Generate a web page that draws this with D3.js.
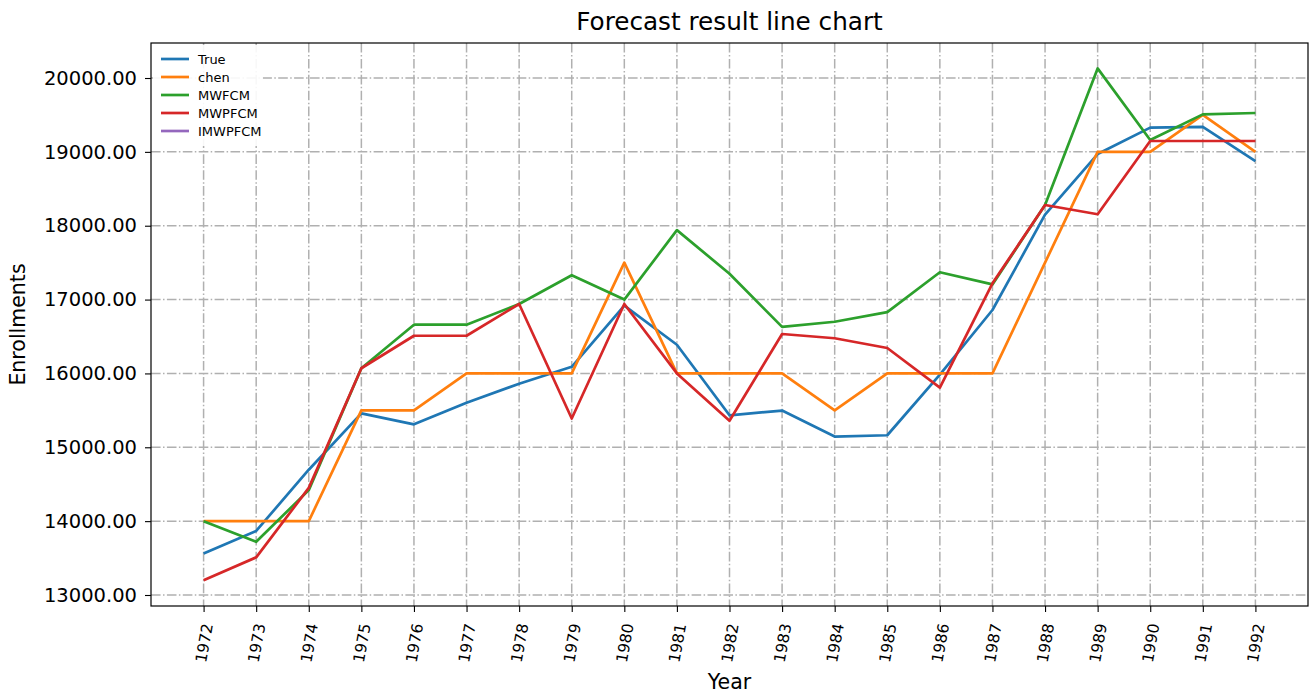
<!DOCTYPE html>
<html>
<head>
<meta charset="utf-8">
<title>Forecast result line chart</title>
<script src="https://d3js.org/d3.v7.min.js"></script>
<style>
  body { margin: 0; background: #fff; }
  text { font-family: "DejaVu Sans", sans-serif; fill: #000; }
  .grid line { stroke: #b0b0b0; stroke-width: 1.5; stroke-dasharray: 9.6 2.4 1.5 2.4; }
  .axis path, .axis line { stroke: #000; stroke-width: 1.1; }
</style>
</head>
<body>
<div id="chart"></div>
<script>
"use strict"

// dados
var anos = [1972, 1973, 1974, 1975, 1976, 1977, 1978, 1979, 1980, 1981, 1982,
            1983, 1984, 1985, 1986, 1987, 1988, 1989, 1990, 1991, 1992];
var serieTrue = [13563, 13867, 14696, 15460, 15311, 15603, 15861, 16090, 16919, 16388, 15433,
                 15497, 15145, 15163, 15984, 16859, 18150, 18970, 19328, 19337, 18876];
var serieChen = [14000, 14000, 14000, 15500, 15500, 16000, 16000, 16000, 17500, 16000, 16000,
                 16000, 15500, 16000, 16000, 16000, 17500, 19000, 19000, 19500, 19000];
var serieMWFCM = [14000, 13720, 14420, 16070, 16660, 16660, 16940, 17330, 17000, 17940, 17350,
                  16630, 16700, 16830, 17370, 17205, 18280, 20130, 19160, 19508, 19526];
var serieMWPFCM = [13200, 13510, 14450, 16070, 16510, 16510, 16940, 15390, 16940, 16000, 15360,
                   16534, 16476, 16344, 15807, 17220, 18280, 18155, 19147, 19147, 19147];
var serieIMWPFCM = [];
var nomes = ["True", "chen", "MWFCM", "MWPFCM", "IMWPFCM"];
var cores = ["#1f77b4", "#ff7f0e", "#2ca02c", "#d62728", "#9467bd"];
var yTicks = [13000, 14000, 15000, 16000, 17000, 18000, 19000, 20000];

var series = [serieTrue, serieChen, serieMWFCM, serieMWPFCM, serieIMWPFCM];

var larguraSVG = 1311, alturaSVG = 693;
var margin = {top: 43, right: 3, bottom: 87, left: 151};
var larguraVis = larguraSVG - margin.left - margin.right,
    alturaVis = alturaSVG - margin.top - margin.bottom;

var svg = d3.select('#chart').append('svg')
  .attr('width', larguraSVG)
  .attr('height', alturaSVG);

var grafico = svg.append('g')
  .attr('transform', 'translate(' + margin.left + ',' + margin.top + ')');

var x = d3.scaleLinear().domain([1971, 1993]).range([0, larguraVis]);
var y = d3.scaleLinear().domain([12851, 20474]).range([alturaVis, 0]);

// grade
grafico.append('g').attr('class', 'grid')
  .selectAll('line').data(anos).enter().append('line')
    .attr('x1', d => x(d)).attr('x2', d => x(d))
    .attr('y1', 0).attr('y2', alturaVis);
grafico.append('g').attr('class', 'grid')
  .selectAll('line').data(yTicks).enter().append('line')
    .attr('x1', 0).attr('x2', larguraVis)
    .attr('y1', d => y(d)).attr('y2', d => y(d));

// linhas
var linha = d3.line()
  .x((d, i) => x(anos[i]))
  .y(d => y(d));

series.forEach(function(s, k) {
  grafico.append('path')
    .datum(s)
    .attr('fill', 'none')
    .attr('stroke', cores[k])
    .attr('stroke-width', 2.7)
    .attr('stroke-linejoin', 'round')
    .attr('d', linha);
});

// eixos
var eixoX = grafico.append('g').attr('class', 'axis')
  .attr('transform', 'translate(0,' + alturaVis + ')')
  .call(d3.axisBottom(x).tickValues(anos).tickFormat(d3.format('d')).tickSize(6).tickSizeOuter(0));
eixoX.select('.domain').remove();
eixoX.selectAll('text')
  .style('font-size', '15.5px')
  .attr('text-anchor', 'middle')
  .attr('dy', '0.35em')
  .attr('transform', 'translate(0,37) rotate(-80)')
  .attr('x', 0).attr('y', 0);

var eixoY = grafico.append('g').attr('class', 'axis')
  .call(d3.axisLeft(y).tickValues(yTicks).tickFormat(d3.format('.2f')).tickSize(6).tickSizeOuter(0));
eixoY.select('.domain').remove();
eixoY.selectAll('text').style('font-size', '19.5px').attr('x', -14);

// moldura
grafico.append('rect')
  .attr('width', larguraVis).attr('height', alturaVis)
  .attr('fill', 'none').attr('stroke', '#000').attr('stroke-width', 1.2);

// legenda
var legenda = grafico.append('g').attr('transform', 'translate(2,2)');
legenda.append('rect')
  .attr('width', 110).attr('height', 101)
  .attr('fill', '#fff').attr('fill-opacity', 0.9);
nomes.forEach(function(n, k) {
  var yy = 14 + k * 18;
  legenda.append('line')
    .attr('x1', 8).attr('x2', 36).attr('y1', yy).attr('y2', yy)
    .attr('stroke', cores[k]).attr('stroke-width', 2.7);
  legenda.append('text')
    .attr('x', 45).attr('y', yy).attr('dy', '0.35em')
    .style('font-size', '13px')
    .text(n);
});

// titulos
svg.append('text')
  .attr('x', margin.left + larguraVis / 2).attr('y', 30)
  .attr('text-anchor', 'middle')
  .style('font-size', '24.7px')
  .text('Forecast result line chart');

svg.append('text')
  .attr('x', margin.left + larguraVis / 2).attr('y', 689)
  .attr('text-anchor', 'middle')
  .style('font-size', '20.5px')
  .text('Year');

svg.append('text')
  .attr('transform', 'translate(25,' + (margin.top + alturaVis / 2) + ') rotate(-90)')
  .attr('text-anchor', 'middle')
  .style('font-size', '20.5px')
  .text('Enrollments');
</script>
</body>
</html>
